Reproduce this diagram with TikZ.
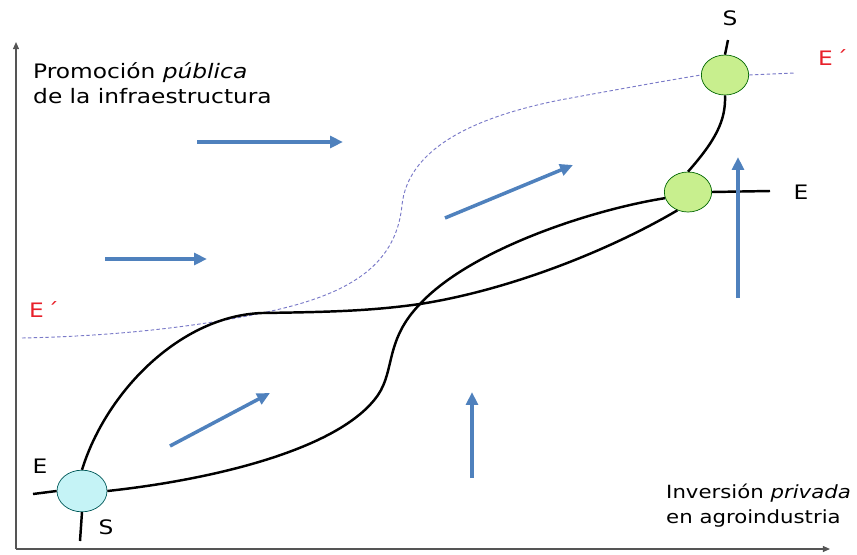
\documentclass[tikz,border=0pt]{standalone}
\usepackage{fontspec}
\setmainfont{DejaVu Sans}[FakeStretch=1.17]
\usepackage{tikz}
\usetikzlibrary{arrows.meta,positioning,shapes.geometric}
\definecolor{flowblue}{HTML}{4F81BD}
\definecolor{eqred}{HTML}{E8202A}
\definecolor{paleblue}{HTML}{C5F3F6}
\definecolor{palegreen}{HTML}{C8EF8E}
\definecolor{axisgray}{HTML}{555555}
\definecolor{dashblue}{HTML}{7A7AC8}

\begin{document}
\begin{tikzpicture}[x=0.03cm,y=-0.03cm,
    curve/.style={line width=2.1pt,black},
    flow/.style={line width=3pt,flowblue,-{Triangle[length=11pt,width=10pt]}},
    eq/.style={ellipse,draw,line width=0.6pt,inner sep=0pt},
    lbl/.style={font=\fontsize{17}{21.5}\selectfont,inner sep=0pt}]
    \useasboundingbox (0,0) rectangle (857,555);
    % axes
    \draw[axisgray,line width=1.1pt,-{Triangle[length=6pt,width=5pt]}] (16,549) -- (16,42);
    \draw[axisgray,line width=1.1pt,-{Triangle[length=6pt,width=5pt]}] (16,549) -- (830,549);
    \node[lbl,anchor=north west,align=left] (ylab) at (33,62) {Promoción \textit{pública}\\de la infraestructura};
    \node[lbl,font=\fontsize{15.5}{21.5}\selectfont,anchor=north west,align=left] (xlab) at (666,484) {Inversión \textit{privada}\\en agroindustria};
    % equilibria
    \node[eq,fill=paleblue,draw=teal!70!black,minimum width=1.5cm,minimum height=1.25cm] (c0) at (82,491) {};
    \node[eq,fill=palegreen,draw=green!40!black,minimum width=1.42cm,minimum height=1.2cm] (c1) at (688,192) {};
    \node[eq,fill=palegreen,draw=green!40!black,minimum width=1.42cm,minimum height=1.2cm] (c2) at (725,75) {};
    \coordinate (eW) at (33,494);
    \coordinate (eE) at (770,191);
    \coordinate (sS) at (80,541);
    \coordinate (sN) at (728,40);
    % dashed E' curve
    \draw[dashblue,line width=0.8pt,dash pattern=on 3pt off 2pt] (22,338) .. controls (120,336) and (200,326) .. (262,313)
        .. controls (345,296) and (396,268) .. (402,205) .. controls (408,150) and (470,118) .. (560,100)
        .. controls (620,89) and (670,80) .. (c2.west);
    \draw[dashblue,line width=0.8pt,dash pattern=on 3pt off 2pt] (c2.east) -- (795,73);
    % E curve
    \draw[curve] (eW) -- (c0.west);
    \draw[curve] (c0.north) .. controls (106,392) and (180,316) .. (262,313)
        .. controls (330,312) and (370,311) .. (420,304) .. controls (510,290) and (610,250) .. (c1.240);
    \draw[curve] (c1.east) -- (eE);
    % S curve
    \draw[curve] (c0.south) -- (sS);
    \draw[curve] (c0.east) .. controls (210,480) and (340,450) .. (378,395)
        .. controls (395,370) and (385,340) .. (420,304) .. controls (470,250) and (590,210) .. (c1.195);
    \draw[curve] (c1.north) .. controls (716,140) and (726,120) .. (c2.south);
    \draw[curve] (c2.north) -- (sN);
    % labels
    \node[lbl] (e0) at (40,466) {E};
    \node[lbl] (s0) at (106,527) {S};
    \node[lbl] (e1) at (801,192) {E};
    \node[lbl] (s2) at (730,18) {S};
    \node[lbl,eqred] (ep0) at (44,310) {E\,´};
    \node[lbl,eqred] (ep1) at (833,58) {E\,´};
    % flows
    \draw[flow] (197,142) -- (343,142);
    \draw[flow] (105,259) -- (207,259);
    \draw[flow] (445,218) -- (573,165);
    \draw[flow] (170,446) -- (270,393);
    \draw[flow] (472,478) -- (472,392);
    \draw[flow] (738,298) -- (738,157);
\end{tikzpicture}
\end{document}
